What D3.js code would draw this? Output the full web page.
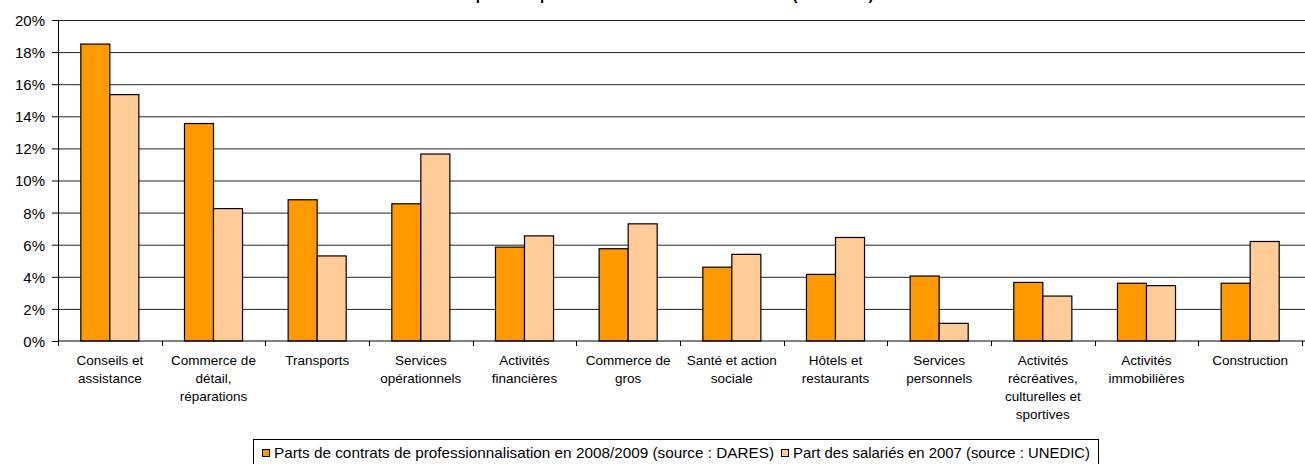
<!DOCTYPE html>
<html>
<head>
<meta charset="utf-8">
<script src="https://cdn.jsdelivr.net/npm/d3@7"></script>
<style>
  body { margin: 0; background: #fff; }
  svg { display: block; }
  .cat { font-family: "Liberation Sans", Arial, sans-serif; font-size: 13.5px; fill: #000; }
  .ylab text { font-family: "Liberation Sans", Arial, sans-serif; font-size: 15px; fill: #000; }
  .legend text { font-family: "Liberation Sans", Arial, sans-serif; font-size: 15px; fill: #000; }
</style>
</head>
<body>
<div class="chart"></div>
<script>
// width and height of the page
var w = 1305;
var h = 464;
var margin = {top: 20, right: 3, bottom: 123, left: 58};

// categories (label lines split with |)
var categories = [
  "Conseils et|assistance",
  "Commerce de|détail,|réparations",
  "Transports",
  "Services|opérationnels",
  "Activités|financières",
  "Commerce de|gros",
  "Santé et action|sociale",
  "Hôtels et|restaurants",
  "Services|personnels",
  "Activités|récréatives,|culturelles et|sportives",
  "Activités|immobilières",
  "Construction"
];

// Parts de contrats de professionnalisation en 2008/2009 (DARES), en %
var dares = [18.5, 13.55, 8.8, 8.55, 5.85, 5.75, 4.6, 4.15, 4.05, 3.65, 3.6, 3.6];
// Part des salariés en 2007 (UNEDIC), en %
var unedic = [15.35, 8.25, 5.3, 11.65, 6.55, 7.3, 5.4, 6.45, 1.1, 2.8, 3.45, 6.2];

var seriesNames = [
  "Parts de contrats de professionnalisation en 2008/2009 (source : DARES)",
  "Part des salariés en 2007 (source : UNEDIC)"
];
var colours = ["#FF9900", "#FFCC99"];
var yTicks = [0, 2, 4, 6, 8, 10, 12, 14, 16, 18, 20];
var title = "Répartition par secteur des nouveaux contrats (2008/2009)";

var data = categories.map(function(c, i) {
  return {cat: c, values: [dares[i], unedic[i]]};
});

var svg = d3.select(".chart")
  .append("svg")
  .attr("width", w)
  .attr("height", h);

// scales
var xScale = d3.scaleBand()
  .domain(categories)
  .range([margin.left, 1302])
  .padding(0);

var bw = xScale.bandwidth();
var xSub = d3.scaleBand()
  .domain([0, 1])
  .range([bw * 0.22, bw * 0.78])
  .padding(0);

var yScale = d3.scaleLinear()
  .domain([0, 20])
  .range([h - margin.bottom, margin.top]);

// title (cut off at the top edge in the original)
svg.append("text")
  .attr("x", 665)
  .attr("y", 0)
  .attr("text-anchor", "middle")
  .style("font-family", "Liberation Sans, Arial, sans-serif")
  .style("font-weight", "bold")
  .style("font-size", "15px")
  .text(title);

// grid lines
svg.append("g")
  .attr("class", "grid")
  .attr("transform", "translate(" + margin.left + ",0)")
  .call(d3.axisLeft(yScale).tickValues(yTicks.slice(1)).tickSize(-(w - margin.left)).tickFormat(""))
  .call(function(g) { g.select(".domain").remove(); })
  .selectAll("line")
  .attr("stroke", "#222")
  .attr("stroke-width", 1);

// bars
var groups = svg.selectAll("g.cat-group")
  .data(data)
  .enter()
  .append("g")
  .attr("class", "cat-group")
  .attr("transform", function(d) { return "translate(" + xScale(d.cat) + ",0)"; });

groups.selectAll("rect")
  .data(function(d) { return d.values; })
  .enter()
  .append("rect")
  .attr("x", function(d, i) { return xSub(i); })
  .attr("y", function(d) { return yScale(d); })
  .attr("width", xSub.bandwidth())
  .attr("height", function(d) { return yScale(0) - yScale(d); })
  .attr("fill", function(d, i) { return colours[i]; })
  .attr("stroke", "#000")
  .attr("stroke-width", 1.2);

// y axis
svg.append("g")
  .attr("class", "ylab")
  .attr("transform", "translate(" + margin.left + ",0)")
  .call(d3.axisLeft(yScale).tickValues(yTicks).tickSize(6).tickPadding(7).tickFormat(function(d) { return d + "%"; }))
  .call(function(g) { g.selectAll("text").attr("dy", "0.36em"); })
  .call(function(g) { g.select(".domain").attr("stroke", "#000").attr("d", "M0.5," + margin.top + "V" + yScale(0)); });

// x axis line and ticks at category boundaries
var xAxisG = svg.append("g")
  .attr("transform", "translate(0," + yScale(0) + ")");
xAxisG.append("line")
  .attr("x1", margin.left).attr("x2", w)
  .attr("stroke", "#000");
xAxisG.selectAll("line.tk")
  .data(categories.concat(["end"]))
  .enter()
  .append("line")
  .attr("class", "tk")
  .attr("x1", function(d, i) { return Math.round(margin.left + i * bw) + 0.5; })
  .attr("x2", function(d, i) { return Math.round(margin.left + i * bw) + 0.5; })
  .attr("y1", 0).attr("y2", 5)
  .attr("stroke", "#000");

// category labels
var labels = svg.selectAll("text.cat")
  .data(categories)
  .enter()
  .append("text")
  .attr("class", "cat")
  .attr("text-anchor", "middle")
  .attr("x", function(d) { return xScale(d) + bw / 2; })
  .attr("y", 365);

labels.selectAll("tspan")
  .data(function(d) { return d.split("|"); })
  .enter()
  .append("tspan")
  .attr("x", function() { return d3.select(this.parentNode).attr("x"); })
  .attr("dy", function(d, i) { return i == 0 ? 0 : 18; })
  .text(function(d) { return d; });

// legend
var legend = svg.append("g").attr("class", "legend");
legend.append("rect")
  .attr("x", 253.5).attr("y", 439.5)
  .attr("width", 845).attr("height", 26)
  .attr("fill", "#fff").attr("stroke", "#000");

var legendX = [262, 781];
var legendLen = [500, 297];
seriesNames.forEach(function(name, i) {
  legend.append("rect")
    .attr("x", legendX[i] + 0.5).attr("y", 449.5)
    .attr("width", 7).attr("height", 7)
    .attr("fill", colours[i]).attr("stroke", "#000");
  legend.append("text")
    .attr("x", legendX[i] + 12)
    .attr("y", 458)
    .attr("textLength", legendLen[i])
    .attr("lengthAdjust", "spacingAndGlyphs")
    .text(name);
});
</script>
</body>
</html>
